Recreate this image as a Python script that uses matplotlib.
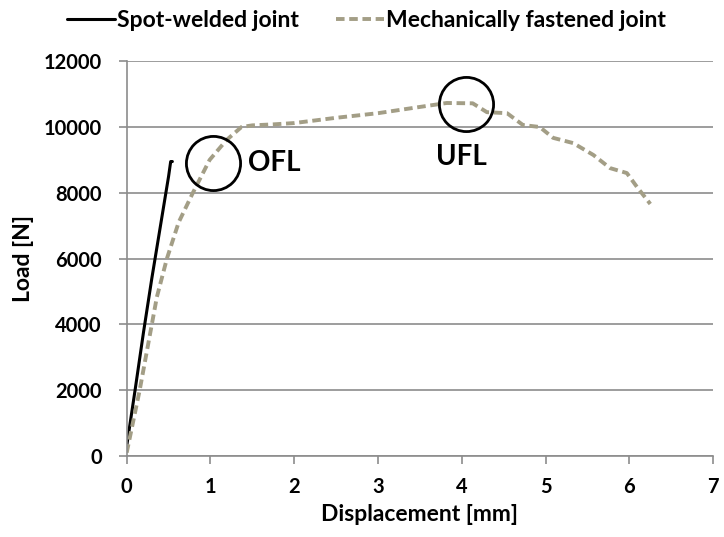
import matplotlib.pyplot as plt
import numpy as np

# spot-welded joint
sw_x = [0.0, 0.10, 0.20, 0.30, 0.40, 0.50, 0.525, 0.545]
sw_y = [300, 2000, 3750, 5400, 6950, 8500, 8950, 8950]

# mechanically fastened joint
mf_x = [0.0, 0.155, 0.30, 0.36, 0.48, 0.62, 0.79, 0.99, 1.19, 1.37, 1.5, 1.75, 2.0, 2.5, 3.0, 3.42, 3.82,
        4.13, 4.3, 4.54, 4.73, 4.93, 5.09, 5.33, 5.57, 5.77, 5.97, 6.09, 6.25]
mf_y = [100, 2000, 4000, 4830, 6000, 7100, 8000, 9000, 9600, 10000, 10050, 10080, 10120, 10280, 10420, 10580, 10730,
        10720, 10450, 10420, 10060, 10000, 9670, 9510, 9150, 8750, 8600, 8180, 7660]

# failure-load markers
mark_x = [1.03, 4.05]
mark_y = [8900, 10700]
mark_lbl = ['OFL', 'UFL']

plt.rcParams['font.family'] = ['Lato', 'DejaVu Sans']
grey = '#8c8c8c'

fig = plt.figure(figsize=(7.24, 5.37), dpi=100)
ax = fig.add_axes([0.175, 0.151, 0.81, 0.735])

ax.plot(sw_x, sw_y, color='black', lw=2.2, label='Spot-welded joint', solid_capstyle='round')
ax.plot(mf_x, mf_y, color='#a39e86', lw=2.8, ls=(0, (2.2, 1.2)), label='Mechanically fastened joint')

ax.plot(mark_x, mark_y, ls='none', marker='o', ms=39, mfc='none', mec='black', mew=2)
ax.text(1.45, 8900, mark_lbl[0], fontsize=20, fontweight='bold', va='center', ha='left')
ax.text(4.0, 9100, mark_lbl[1], fontsize=20, fontweight='bold', va='center', ha='center')

ax.set_xlim(0, 7)
ax.set_ylim(0, 12000)
ax.set_xticks(np.arange(0, 8, 1))
ax.set_yticks(np.arange(0, 12001, 2000))
ax.yaxis.grid(True, color=grey, lw=1.2)
ax.set_axisbelow(True)
for s in ['top', 'right']:
    ax.spines[s].set_visible(False)
for s in ['left', 'bottom']:
    ax.spines[s].set_color(grey)
    ax.spines[s].set_linewidth(1.2)
ax.tick_params(axis='both', colors=grey, length=6, width=1.2, labelsize=14.5, labelcolor='black')
ax.tick_params(axis='x', pad=9)
ax.tick_params(axis='y', pad=12)
for t in ax.get_xticklabels() + ax.get_yticklabels():
    t.set_fontweight('bold')

ax.set_xlabel('Displacement [mm]', fontsize=16.5, fontweight='bold', labelpad=5)
ax.set_ylabel('Load [N]', fontsize=16.5, fontweight='bold', labelpad=7)

fig.legend(loc='upper center', bbox_to_anchor=(0.506, 1.02), ncol=2, frameon=False,
           handlelength=2.1, columnspacing=1.6, handletextpad=0.1,
           prop={'weight': 'bold', 'size': 16.5})

fig.savefig('out.png', dpi=100, facecolor='white')
